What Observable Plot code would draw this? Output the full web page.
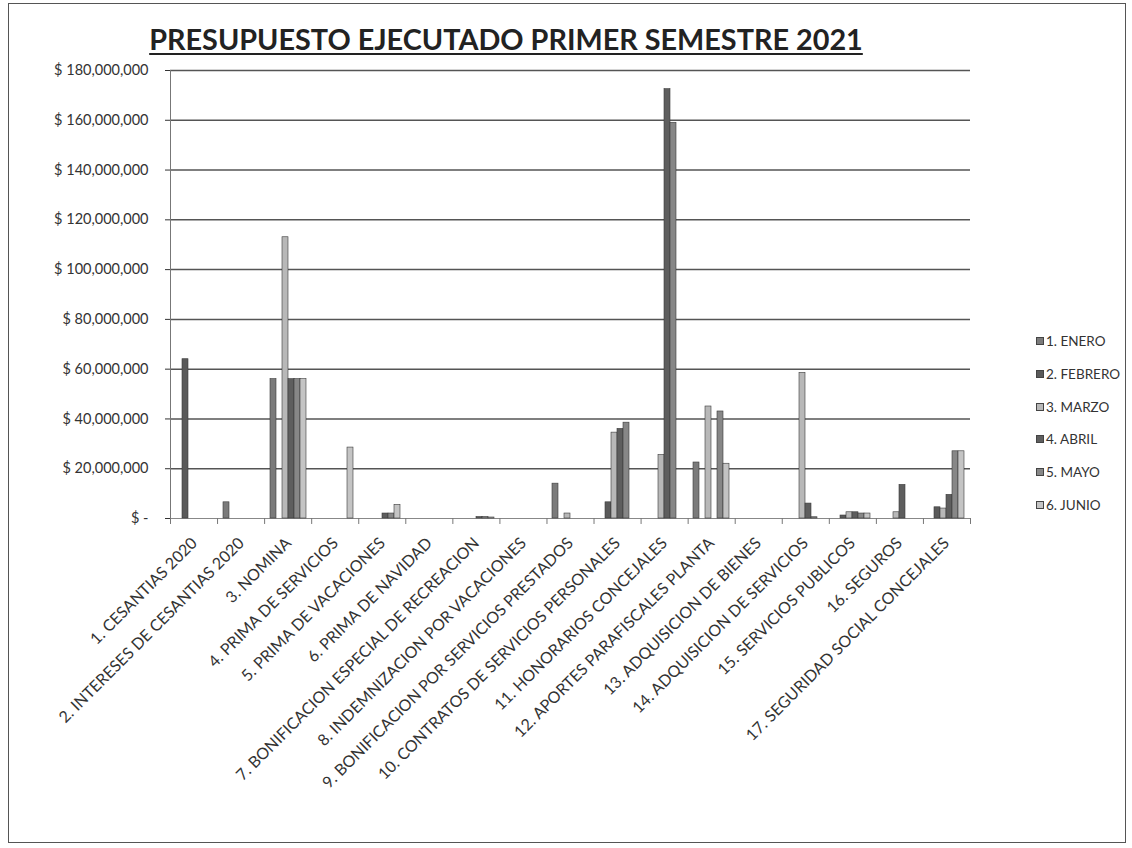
<!DOCTYPE html>
<html>
<head>
<meta charset="utf-8">
<script src="https://cdn.jsdelivr.net/npm/d3@7"></script>
<script src="https://cdn.jsdelivr.net/npm/@observablehq/plot@0.6"></script>
<style>
  html, body { margin: 0; padding: 0; background: #fff; }
  #wrap { position: relative; width: 1132px; height: 848px; overflow: hidden; font-family: Lato, "Open Sans", sans-serif; }
  #frame { position: absolute; left: 8px; top: 3px; width: 1118px; height: 840px; border: 1.5px solid #555; box-sizing: border-box; }
  #title { position: absolute; left: 0; width: 1012px; top: 22px; text-align: center; font-size: 28.8px; font-weight: bold; color: #222; text-decoration: underline; text-underline-offset: 3px; text-decoration-thickness: 2px; }
  .layer { position: absolute; left: 0; top: 0; }
  #legend { position: absolute; left: 1036px; top: 324.6px; font-size: 13.5px; color: #333; }
  #legend .item { height: 32.8px; display: flex; align-items: center; }
  #legend .sw { width: 8px; height: 8px; margin-right: 2px; border: 0.5px solid #444; box-sizing: border-box; }
</style>
</head>
<body>
<div id="wrap">
  <div id="frame"></div>
  <div id="title">PRESUPUESTO EJECUTADO PRIMER SEMESTRE 2021</div>
  <div id="bg" class="layer"></div>
  <div id="fg" class="layer"></div>
  <div id="legend"></div>
</div>
<script>
// ---- data (values in millions of pesos) ----
const categories = [
  "1. CESANTIAS 2020",
  "2. INTERESES DE CESANTIAS 2020",
  "3. NOMINA",
  "4. PRIMA DE SERVICIOS",
  "5. PRIMA DE VACACIONES",
  "6. PRIMA DE NAVIDAD",
  "7. BONIFICACION ESPECIAL DE RECREACION",
  "8. INDEMNIZACION POR VACACIONES",
  "9. BONIFICACION POR SERVICIOS PRESTADOS",
  "10. CONTRATOS DE SERVICIOS PERSONALES",
  "11. HONORARIOS CONCEJALES",
  "12. APORTES PARAFISCALES PLANTA",
  "13. ADQUISICION DE BIENES",
  "14. ADQUISICION DE SERVICIOS",
  "15. SERVICIOS PUBLICOS",
  "16. SEGUROS",
  "17. SEGURIDAD SOCIAL CONCEJALES"
];
const months = ["1. ENERO", "2. FEBRERO", "3. MARZO", "4. ABRIL", "5. MAYO", "6. JUNIO"];
const enero   = [0, 6.5, 56, 0, 0, 0, 0, 0, 14, 0, 0, 22.5, 0, 0, 0, 0, 0];
const febrero = [64, 0, 0, 0, 0, 0, 0, 0, 0, 6.5, 0, 0, 0, 0, 1.2, 0, 4.5];
const marzo   = [0, 0, 113, 0, 0, 0, 0, 0, 2, 34.5, 25.5, 45, 0, 58.5, 2.5, 2.5, 4];
const abril   = [0, 0, 56, 0, 2, 0, 0.6, 0, 0, 36, 172.5, 0, 0, 6, 2.5, 13.5, 9.5];
const mayo    = [0, 0, 56, 0, 2, 0, 0.6, 0, 0, 38.5, 159, 43, 0, 0.5, 2, 0, 27];
const junio   = [0, 0, 56, 28.5, 5.5, 0, 0.4, 0, 0, 0, 0, 22, 0, 0, 2, 0, 27];
const yTicks = [0, 20e6, 40e6, 60e6, 80e6, 100e6, 120e6, 140e6, 160e6, 180e6];
const grays = ["#7b7b7b", "#5a5a5a", "#b8b8b8", "#5e5e5e", "#878787", "#c4c4c4"];

const series = [enero, febrero, marzo, abril, mayo, junio];
const table = [];
categories.forEach((c, i) => {
  months.forEach((m, j) => {
    const v = series[j][i];
    if (v > 0) table.push({cat: c, month: m, value: v * 1e6});
  });
});

const W = 1000, H = 848, ML = 170, MR = 30, MT = 70, MB = 330;
const FONT = "Lato, 'Open Sans', sans-serif";
const fmt = v => v === 0 ? "$ -" : "$ " + d3.format(",")(v);

const bg = Plot.plot({
  width: W, height: H, marginLeft: ML, marginRight: MR, marginTop: MT, marginBottom: MB,
  style: {background: "transparent", fontFamily: FONT, fontSize: "14.5px", color: "#333"},
  x: {domain: [0, categories.length], axis: null},
  y: {domain: [0, 180e6], ticks: yTicks, tickFormat: fmt, tickSize: 5, tickPadding: 17, label: null},
  marks: [
    Plot.ruleY(yTicks.filter(v => v > 0), {stroke: "#555", strokeWidth: 1.5}),
    Plot.ruleY([0], {stroke: "#888", strokeWidth: 1.2}),
    Plot.ruleX([0], {stroke: "#777", strokeWidth: 1}),
    Plot.ruleX(d3.range(categories.length + 1), {y1: 0, y2: -2.4e6, stroke: "#777"})
  ]
});
document.getElementById("bg").appendChild(bg);

const hasAxisFx = typeof Plot.axisFx === "function";
const fgMarks = [
  Plot.barY(table, {fx: "cat", x: "month", y: "value", fill: "month", stroke: "#3a3a3a", strokeWidth: 0.6})
];
if (hasAxisFx) {
  fgMarks.push(Plot.axisFx({anchor: "bottom", tickRotate: -45, tickSize: 0, tickPadding: 22, label: null, fontSize: 16, fill: "#333"}));
}
const fg = Plot.plot({
  width: W, height: H, marginLeft: ML, marginRight: MR, marginTop: MT, marginBottom: MB,
  style: {background: "transparent", fontFamily: FONT, fontSize: "16px", color: "#333"},
  fx: hasAxisFx
    ? {domain: categories, paddingInner: 0.2, paddingOuter: 0.1, axis: null, label: null}
    : {domain: categories, paddingInner: 0.2, paddingOuter: 0.1, axis: "bottom", tickRotate: -45, tickSize: 0, tickPadding: 22, label: null},
  x: {domain: months, axis: null, padding: 0},
  y: {domain: [0, 180e6], axis: null},
  color: {domain: months, range: grays},
  marks: fgMarks
});
document.getElementById("fg").appendChild(fg);

const legend = document.getElementById("legend");
months.forEach((m, j) => {
  const it = document.createElement("div");
  it.className = "item";
  const sw = document.createElement("span");
  sw.className = "sw";
  sw.style.background = grays[j];
  const t = document.createElement("span");
  t.textContent = m;
  it.appendChild(sw); it.appendChild(t);
  legend.appendChild(it);
});
</script>
</body>
</html>
